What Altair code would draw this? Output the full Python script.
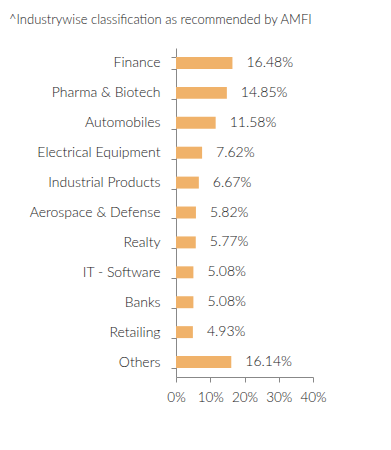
import altair as alt
import pandas as pd

categories = ["Finance", "Pharma & Biotech", "Automobiles", "Electrical Equipment",
              "Industrial Products", "Aerospace & Defense", "Realty", "IT - Software",
              "Banks", "Retailing", "Others"]
values = [16.48, 14.85, 11.58, 7.62, 6.67, 5.82, 5.77, 5.08, 5.08, 4.93, 16.14]
labels = [f"{v:.2f}%" for v in values]
x_ticks = [0, 10, 20, 30, 40]
title_text = "^Industrywise classification as recommended by AMFI"

df = pd.DataFrame({"cat": categories, "val": values, "lab": labels})

FONT = "Lato"
TXT = "#1a1a1a"

x_axis = alt.Axis(values=x_ticks, labelExpr="datum.value + '%'", grid=False,
                  labelOverlap=False, labelFlush=False,
                  labelFontSize=13.5, labelColor=TXT, labelFont=FONT,
                  labelFontWeight=300,
                  domainColor="#888888", tickColor="#888888", tickSize=5,
                  labelPadding=8)
x_enc = alt.X("val:Q", title=None, scale=alt.Scale(domain=[0, 40]), axis=x_axis)

base = alt.Chart(df).encode(
    y=alt.Y("cat:N", sort=categories, title=None,
            scale=alt.Scale(paddingInner=0.6, paddingOuter=0.3),
            axis=alt.Axis(labelFontSize=14, labelColor=TXT, labelFont=FONT,
                          labelFontWeight=300,
                          domainColor="#888888", tickColor="#888888", tickSize=5,
                          labelPadding=11, tickBand="extent", labelLimit=200)),
    x=x_enc,
)

bars = base.mark_bar(color="#F0B26A")

text = base.mark_text(align="left", baseline="middle", dx=14, fontSize=14,
                      font=FONT, fontWeight=300, color=TXT).encode(text="lab:N")

chart = alt.layer(bars, text).properties(
    width=137, height=329,
    title=alt.TitleParams(title_text, anchor="start", frame="group", dx=-167, offset=14,
                          fontSize=13, font=FONT, fontWeight=300, color="#222222"),
    autosize=alt.AutoSizeParams(type="none"),
    padding={"left": 168, "top": 40, "right": 70, "bottom": 60},
).configure_view(stroke=None)

chart.save("out.html", embed_options={"renderer": "svg", "actions": False})
